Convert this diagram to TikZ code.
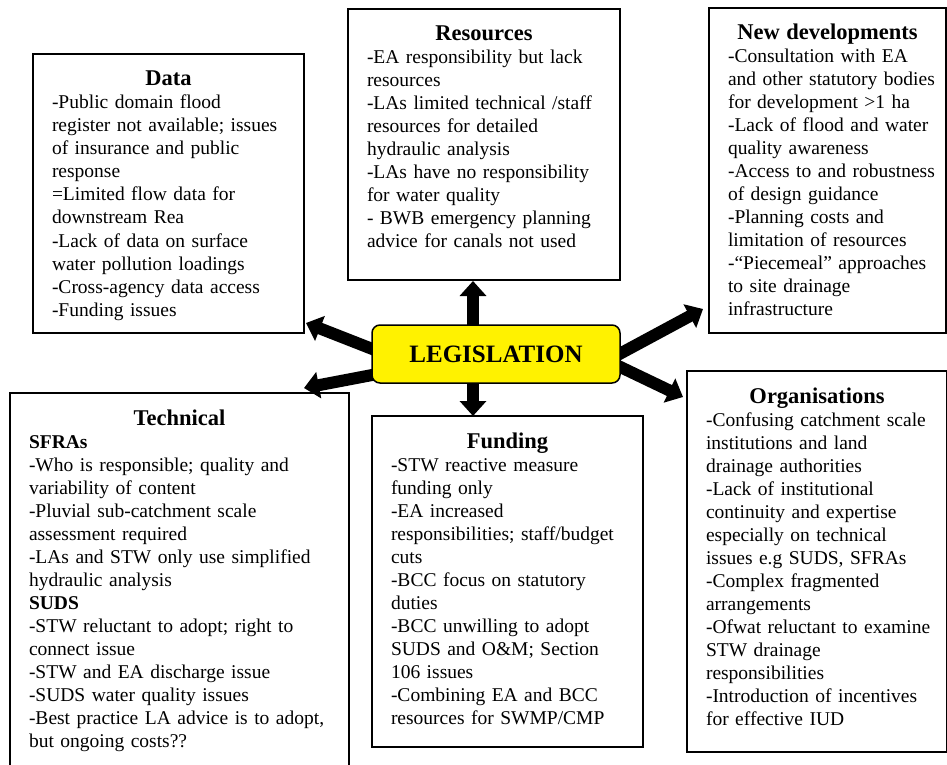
\documentclass[tikz,border=0pt]{standalone}
\usepackage{fontspec}
\setmainfont{Liberation Serif}
\usetikzlibrary{arrows.meta,calc,backgrounds}
\newcommand{\boxtitle}[2]{\makebox[#1]{\fontsize{22.5}{23}\selectfont\textbf{#2}}}
\begin{document}
\begin{tikzpicture}[x=1pt,y=-1pt,
  boxst/.style={draw=black, line width=1.5pt, inner sep=0pt, outer sep=0pt},
  txt/.style={inner sep=0pt, outer sep=0pt, align=left, text width=320pt, font=\fontsize{19.5}{23}\selectfont, anchor=base west},
  legst/.style={draw=black, line width=1.5pt, fill=yellow, rounded corners=8pt, minimum width=248pt, minimum height=58pt, inner sep=0pt, font=\bfseries\fontsize{25}{30}\selectfont},
  bigarrow/.style={line width=12pt, -{Triangle[length=15pt,width=26pt]}, draw=black}]
\useasboundingbox (0,0) rectangle (947,765);

% boxes
\node[boxst, minimum width=271pt, minimum height=279pt] (data) at (168.5,193.5) {};
\node[boxst, minimum width=272pt, minimum height=271pt] (res) at (484,144.5) {};
\node[boxst, minimum width=237pt, minimum height=325pt] (newd) at (827.5,170.5) {};
\node[boxst, minimum width=339pt, minimum height=377pt] (tech) at (179.5,581.5) {};
\node[boxst, minimum width=271pt, minimum height=331pt] (fund) at (507.5,581.5) {};
\node[boxst, minimum width=260pt, minimum height=381pt] (org) at (817,561.5) {};

% legislation
\node[legst] (leg) at (496,354) {LEGISLATION};

% texts
\node[txt] (dataT) at ($(data.north west)+(19,32)$) {%
\boxtitle{233pt}{Data}\\
-Public domain flood\\
register not available; issues\\
of insurance and public\\
response\\
=Limited flow data for\\
downstream Rea\\
-Lack of data on surface\\
water pollution loadings\\
-Cross-agency data access\\
-Funding issues};

\node[txt] (resT) at ($(res.north west)+(19,32)$) {%
\boxtitle{234pt}{Resources}\\
-EA responsibility but lack\\
resources\\
-LAs limited technical /staff\\
resources for detailed\\
hydraulic analysis\\
-LAs have no responsibility\\
for water quality\\
- BWB emergency planning\\
advice for canals not used};

\node[txt] (newdT) at ($(newd.north west)+(19,32)$) {%
\boxtitle{199pt}{New developments}\\
-Consultation with EA\\
and other statutory bodies\\
for development >1 ha\\
-Lack of flood and water\\
quality awareness\\
-Access to and robustness\\
of design guidance\\
-Planning costs and\\
limitation of resources\\
-“Piecemeal” approaches\\
to site drainage\\
infrastructure};

\node[txt] (techT) at ($(tech.north west)+(19,32)$) {%
\boxtitle{301pt}{Technical}\\
\textbf{SFRAs}\\
-Who is responsible; quality and\\
variability of content\\
-Pluvial sub-catchment scale\\
assessment required\\
-LAs and STW only use simplified\\
hydraulic analysis\\
\textbf{SUDS}\\
-STW reluctant to adopt; right to\\
connect issue\\
-STW and EA discharge issue\\
-SUDS water quality issues\\
-Best practice LA advice is to adopt,\\
but ongoing costs??};

\node[txt] (fundT) at ($(fund.north west)+(19,32)$) {%
\boxtitle{233pt}{Funding}\\
-STW reactive measure\\
funding only\\
-EA increased\\
responsibilities; staff/budget\\
cuts\\
-BCC focus on statutory\\
duties\\
-BCC unwilling to adopt\\
SUDS and O\&M; Section\\
106 issues\\
-Combining EA and BCC\\
resources for SWMP/CMP};

\node[txt] (orgT) at ($(org.north west)+(19,32)$) {%
\boxtitle{222pt}{Organisations}\\
-Confusing catchment scale\\
institutions and land\\
drainage authorities\\
-Lack of institutional\\
continuity and expertise\\
especially on technical\\
issues e.g SUDS, SFRAs\\
-Complex fragmented\\
arrangements\\
-Ofwat reluctant to examine\\
STW drainage\\
responsibilities\\
-Introduction of incentives\\
for effective IUD};

% arrow end points
\coordinate (tU) at (473,331);
\coordinate (hU) at (473,281);
\coordinate (tD) at (473,377);
\coordinate (hD) at (473,416);
\coordinate (tUL) at (380,352);
\coordinate (hUL) at (306,323);
\coordinate (tLL) at (380,373.5);
\coordinate (hLL) at (304,388);
\coordinate (tUR) at (612,358);
\coordinate (hUR) at (703,309);
\coordinate (tLR) at (612,363);
\coordinate (hLR) at (683,397);

\begin{scope}[on background layer]
\draw[bigarrow] (tU) -- (hU);
\draw[bigarrow] (tD) -- (hD);
\draw[bigarrow] (tUL) -- (hUL);
\draw[bigarrow] (tLL) -- (hLL);
\draw[bigarrow] (tUR) -- (hUR);
\draw[bigarrow] (tLR) -- (hLR);
\end{scope}
\end{tikzpicture}
\end{document}
